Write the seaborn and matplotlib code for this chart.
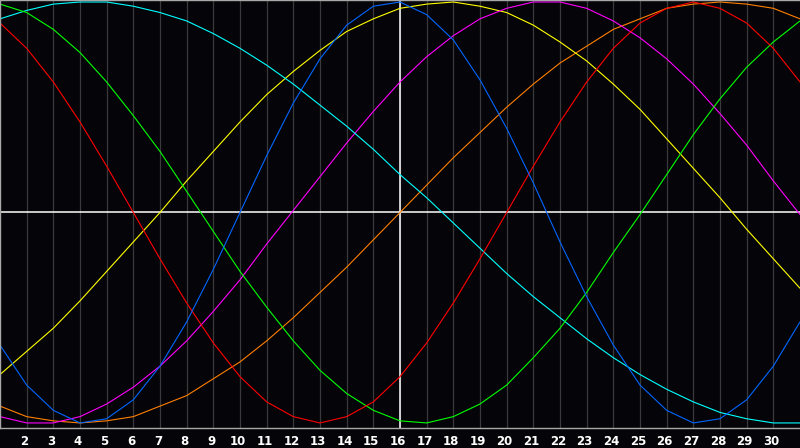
import matplotlib
matplotlib.use("Agg")
import matplotlib.pyplot as plt
import matplotlib.transforms as mtransforms
import numpy as np
import pandas as pd
import seaborn as sns

# Data: one value per day of the month
days = list(range(1, 32))
tick_days = list(range(2, 31))

blue = [-0.63, -0.82, -0.94, -1.00, -0.98, -0.89, -0.73, -0.52, -0.27, 0.00,
        0.27, 0.52, 0.73, 0.89, 0.98, 1.00, 0.94, 0.82, 0.63, 0.40,
        0.14, -0.14, -0.40, -0.63, -0.82, -0.94, -1.00, -0.98, -0.89, -0.73, -0.52]
red = [0.90, 0.78, 0.62, 0.43, 0.22, 0.00, -0.22, -0.43, -0.62, -0.78,
       -0.90, -0.97, -1.00, -0.97, -0.90, -0.78, -0.62, -0.43, -0.22, 0.00,
       0.22, 0.43, 0.62, 0.78, 0.90, 0.97, 1.00, 0.97, 0.90, 0.78, 0.62]
green = [0.99, 0.95, 0.87, 0.76, 0.62, 0.46, 0.29, 0.10, -0.09, -0.28,
         -0.45, -0.61, -0.75, -0.86, -0.94, -0.99, -1.00, -0.97, -0.91, -0.82,
         -0.69, -0.55, -0.38, -0.19, -0.01, 0.18, 0.37, 0.54, 0.69, 0.81, 0.91]
magenta = [-0.97, -1.00, -1.00, -0.97, -0.91, -0.83, -0.73, -0.61, -0.47, -0.32,
           -0.15, 0.01, 0.17, 0.33, 0.48, 0.62, 0.74, 0.84, 0.92, 0.97,
           1.00, 1.00, 0.97, 0.91, 0.83, 0.73, 0.61, 0.47, 0.32, 0.15, -0.01]
yellow = [-0.77, -0.66, -0.55, -0.42, -0.28, -0.14, 0.00, 0.15, 0.29, 0.43,
          0.56, 0.67, 0.77, 0.86, 0.92, 0.97, 0.99, 1.00, 0.98, 0.95,
          0.89, 0.81, 0.72, 0.61, 0.49, 0.35, 0.21, 0.07, -0.08, -0.22, -0.36]
orange = [-0.92, -0.97, -0.99, -1.00, -0.99, -0.97, -0.92, -0.87, -0.79, -0.71,
          -0.61, -0.50, -0.38, -0.26, -0.13, 0.00, 0.13, 0.26, 0.38, 0.50,
          0.61, 0.71, 0.79, 0.87, 0.92, 0.97, 0.99, 1.00, 0.99, 0.97, 0.92]
cyan = [0.92, 0.96, 0.99, 1.00, 1.00, 0.98, 0.95, 0.91, 0.85, 0.78,
        0.70, 0.61, 0.51, 0.41, 0.30, 0.18, 0.07, -0.05, -0.17, -0.29,
        -0.40, -0.50, -0.60, -0.69, -0.77, -0.84, -0.90, -0.95, -0.98, -1.00, -1.00]

series = {
    "orange": orange,
    "yellow": yellow,
    "magenta": magenta,
    "cyan": cyan,
    "green": green,
    "red": red,
    "blue": blue,
}
colors = {
    "orange": "#ff7f00",
    "yellow": "#ffff00",
    "magenta": "#ff00ff",
    "cyan": "#00ffff",
    "green": "#00ff00",
    "red": "#ff0000",
    "blue": "#0066ff",
}

df = pd.concat(
    [pd.DataFrame({"day": days, "value": v, "cycle": k}) for k, v in series.items()],
    ignore_index=True,
)

sns.set_theme(style="dark")
bg = "#050408"

fig = plt.figure(figsize=(8, 4.48), dpi=100, facecolor=bg)
ax = fig.add_axes([0, 20 / 448, 1, 428 / 448])
ax.set_facecolor(bg)

# grid and white reference lines
ax.set_xticks(tick_days)
ax.xaxis.grid(True, color="#3a3a3a", linewidth=0.9)
ax.yaxis.grid(False)
ax.axhline(0, color="white", linewidth=1.1, zorder=1.5)
ax.axvline(16, color="white", linewidth=1.1, zorder=1.5)

sns.lineplot(data=df, x="day", y="value", hue="cycle", palette=colors,
             linewidth=0.8, legend=False, ax=ax, zorder=2)

ax.set_xlim(1, 31)
ax.set_ylim(-1.024, 1.0095)
ax.set_yticks([])
ax.set_xlabel("")
ax.set_ylabel("")

ax.tick_params(axis="x", length=0, pad=5, labelsize=8.5, labelcolor="white")
for lab in ax.get_xticklabels():
    lab.set_fontweight("bold")
    lab.set_transform(lab.get_transform() +
                      mtransforms.ScaledTranslation(-2 / 100, 0, fig.dpi_scale_trans))

for side in ["top", "left", "bottom"]:
    ax.spines[side].set_visible(True)
    ax.spines[side].set_color("#a8a8a8")
    ax.spines[side].set_linewidth(1.0)
ax.spines["right"].set_visible(False)

fig.savefig("out.png", dpi=100, facecolor=bg)
